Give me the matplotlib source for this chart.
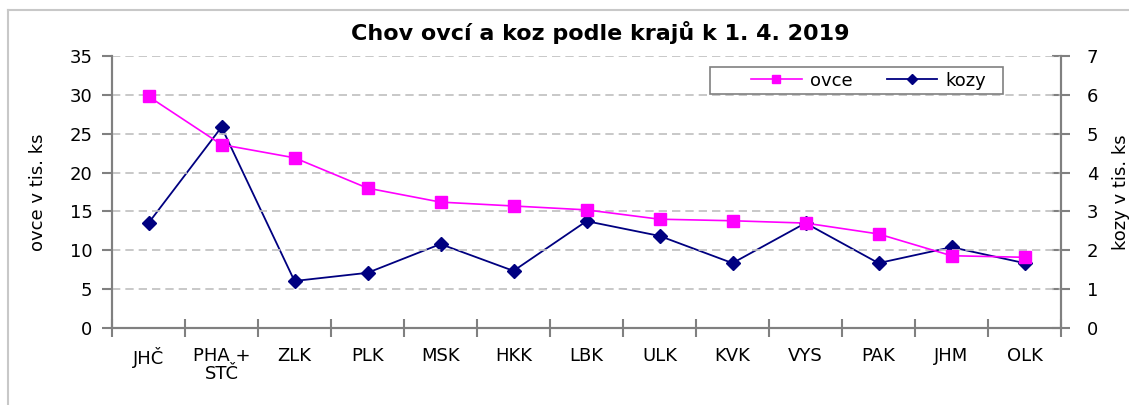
import numpy as np
import matplotlib
matplotlib.use('Agg')
import matplotlib.pyplot as plt
from matplotlib.lines import Line2D
from matplotlib.patches import Rectangle

plt.rcParams['font.family'] = ['DejaVu Sans']

kraje = ['JHČ', 'PHA +\nSTČ', 'ZLK', 'PLK', 'MSK', 'HKK', 'LBK', 'ULK', 'KVK', 'VYS', 'PAK', 'JHM', 'OLK']
ovce = [29.8, 23.6, 21.9, 18.0, 16.2, 15.7, 15.2, 14.0, 13.8, 13.5, 12.1, 9.3, 9.1]
kozy = [2.70, 5.17, 1.21, 1.42, 2.16, 1.47, 2.75, 2.37, 1.67, 2.70, 1.67, 2.08, 1.67]

W, H = 1129, 405
fig = plt.figure(figsize=(W/100, H/100), dpi=100)
ax = fig.add_axes([112/W, 77/H, (1061-112)/W, (328-56)/H])
ax2 = ax.twinx()

x = np.arange(len(kraje))
l1, = ax.plot(x, ovce, color='#FF00FF', lw=1.2, marker='s', ms=8.5, label='ovce', zorder=3)
l2, = ax2.plot(x, kozy, color='#000080', lw=1.3, marker='D', ms=7.5, label='kozy', zorder=3)

ax.set_ylim(0, 35)
ax.set_yticks(np.arange(0, 36, 5))
ax2.set_ylim(0, 7)
ax2.set_yticks(np.arange(0, 8, 1))
ax.set_xlim(-0.5, len(kraje) - 0.5)
ax.set_xticks(x)
ax.set_xticklabels(kraje, fontsize=13, va='top', linespacing=1.0)
ax.set_xticks(np.arange(-0.5, len(kraje), 1), minor=True)
ax.tick_params(axis='x', which='major', length=0, pad=14)
ax.tick_params(axis='x', which='minor', length=13, direction='inout', color='#808080', width=1.5)
ax.tick_params(axis='y', length=7, color='#808080', width=1.5, labelsize=13, pad=7)
ax2.tick_params(axis='y', length=13, direction='inout', color='#808080', width=1.5, labelsize=13, pad=12)

ax.yaxis.grid(True, color='#BFBFBF', linestyle=(0, (5, 3)), linewidth=1.2)
ax.set_axisbelow(True)
for a in (ax, ax2):
    a.spines['top'].set_visible(False)
    for s in ('left', 'right', 'bottom'):
        a.spines[s].set_color('#808080')
        a.spines[s].set_linewidth(1.5)

ax.set_ylabel('ovce v tis. ks', fontsize=13, labelpad=16)
ax2.set_ylabel('kozy v tis. ks', fontsize=13, labelpad=10)
fig.text(0.532, 1 - 33/H, 'Chov ovcí a koz podle krajů k 1. 4. 2019', ha='center', va='center',
         fontsize=16, fontweight='bold')

# legend: frameless entries plus a drawn box
fig.add_artist(Rectangle((710/W, 1 - 94/H), (1003-710)/W, 27/H, transform=fig.transFigure,
                         facecolor='white', edgecolor='#808080', lw=1.2, zorder=4))
leg = fig.legend([l1, l2], ['ovce', 'kozy'], ncol=2, loc='center left',
                 bbox_to_anchor=(742/W, 1 - 80.5/H), fontsize=13, frameon=False,
                 borderpad=0, handlelength=2.8, columnspacing=1.9, handletextpad=0.45,
                 markerscale=0.7)
leg.set_zorder(5)
ax.set_zorder(ax2.get_zorder() + 1)
ax.patch.set_visible(False)

# outer chart border (light gray)
fig.add_artist(Line2D([8/W, 1], [1 - 10/H, 1 - 10/H], color='#C8C8C8', lw=1.5, transform=fig.transFigure))
fig.add_artist(Line2D([8/W, 8/W], [0, 1 - 10/H], color='#C8C8C8', lw=1.5, transform=fig.transFigure))

fig.savefig('out.png', dpi=100)
